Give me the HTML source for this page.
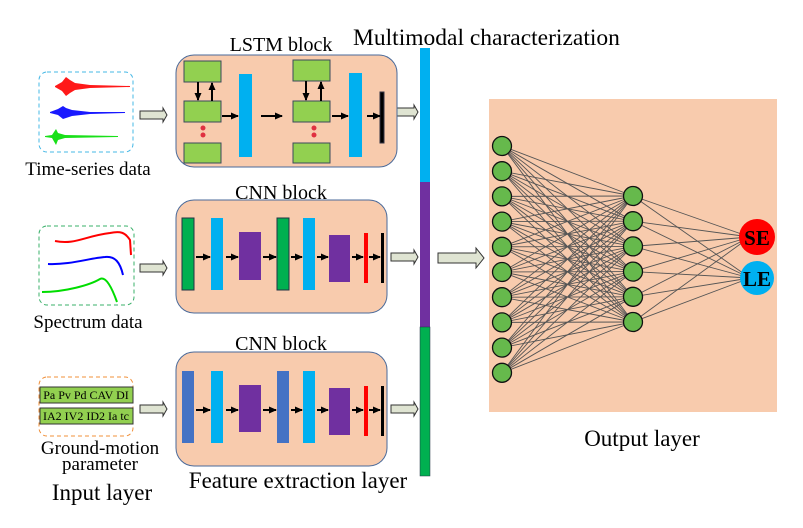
<!DOCTYPE html>
<html><head><meta charset="utf-8"><style>
html,body{margin:0;padding:0;background:#fff;}
svg{display:block;font-family:"Liberation Serif",serif;}
</style></head><body>
<svg id="s" width="803" height="528" viewBox="0 0 803 528" xmlns="http://www.w3.org/2000/svg">
<defs>
<marker id="ah" markerUnits="userSpaceOnUse" markerWidth="8" markerHeight="8" refX="7" refY="4" orient="auto"><path d="M0,0.5 L8,4 L0,7.5 Z" fill="#000"/></marker>
</defs>
<text x="353" y="45" font-size="23.5">Multimodal characterization</text>
<text x="281" y="51" font-size="20" text-anchor="middle">LSTM  block</text>
<text x="281" y="199" font-size="20" text-anchor="middle">CNN  block</text>
<text x="281" y="350" font-size="20" text-anchor="middle">CNN  block</text>

<rect x="39" y="72" width="94" height="80" rx="8" fill="none" stroke="#45b8e6" stroke-dasharray="4,3"/>
<path d="M55,86 L62,82 L66,77 L70,80 L75,83 L90,85 L130,86 L130,87 L90,88 L75,90 L70,93 L66,96 L62,91 L55,87 Z" fill="#f00" opacity="0.9"/>
<path d="M50,112 L58,109 L63,106 L66,108 L72,110 L90,112 L125,112 L125,113 L90,114 L72,116 L66,118 L63,119 L58,115 L50,113 Z" fill="#00f" opacity="0.9"/>
<path d="M45,136 L52,135 L56,129 L58,133 L65,135 L118,136 L118,137 L65,138 L58,140 L56,145 L52,138 L45,137 Z" fill="#0d0" opacity="0.9"/>
<text x="88" y="175" font-size="19" text-anchor="middle">Time-series data</text>

<rect x="39" y="226" width="95" height="79" rx="8" fill="none" stroke="#3ab06a" stroke-dasharray="4,3"/>
<path d="M55,241 C75,245 85,236 110,233 C120,231 125,232 130,240 L131,255" stroke="#f00" fill="none" stroke-width="2"/>
<path d="M48,264 C70,265 90,258 105,257 C115,256 120,262 123,275" stroke="#00f" fill="none" stroke-width="2"/>
<path d="M42,292 C65,292 90,285 100,279 C106,276 112,288 117,302" stroke="#0d0" fill="none" stroke-width="2"/>
<text x="88" y="328" font-size="19" text-anchor="middle">Spectrum data</text>

<rect x="39" y="377" width="94" height="59" rx="8" fill="none" stroke="#f0903a" stroke-dasharray="4,3"/>
<rect x="40" y="387" width="93" height="16" fill="#92d050" stroke="#333"/>
<rect x="40" y="408" width="93" height="16" fill="#92d050" stroke="#333"/>
<text x="86" y="399" font-size="12" text-anchor="middle">Pa Pv Pd CAV DI</text>
<text x="86" y="420" font-size="12" text-anchor="middle">IA2 IV2 ID2 Ia tc</text>
<text x="100" y="454" font-size="19" text-anchor="middle">Ground-motion</text>
<text x="100" y="470" font-size="19" text-anchor="middle">parameter</text>
<text x="102" y="500" font-size="23" text-anchor="middle">Input layer</text>
<text x="298" y="488" font-size="23" text-anchor="middle">Feature extraction layer</text>

<g fill="#dfe4d2" stroke="#333" stroke-width="1">
<path d="M140,111 L163,111 L163,108 L167,115 L163,122 L163,119 L140,119 Z"/>
<path d="M140,264 L163,264 L163,261 L167,268 L163,275 L163,272 L140,272 Z"/>
<path d="M140,405 L163,405 L163,402 L167,409 L163,416 L163,413 L140,413 Z"/>
<path d="M391,108 L414,108 L414,105 L418,112 L414,119 L414,116 L391,116 Z"/>
<path d="M391,253 L414,253 L414,250 L418,257 L414,264 L414,261 L391,261 Z"/>
<path d="M391,405 L414,405 L414,402 L418,409 L414,416 L414,413 L391,413 Z"/>
<path d="M438,253 L476,253 L476,248 L484,258 L476,268 L476,263 L438,263 Z"/>
</g>

<rect x="176" y="55" width="221" height="112" rx="18" fill="#f8cbad" stroke="#4a6a9a"/>
<rect x="176" y="200" width="211" height="113" rx="18" fill="#f8cbad" stroke="#4a6a9a"/>
<rect x="176" y="352" width="211" height="114" rx="18" fill="#f8cbad" stroke="#4a6a9a"/>

<g fill="#92d050" stroke="#3a4a5a">
<rect x="184" y="61" width="37" height="21"/><rect x="184" y="101" width="37" height="21"/><rect x="184" y="143" width="37" height="20"/>
<rect x="293" y="60" width="37" height="21"/><rect x="293" y="101" width="37" height="21"/><rect x="293" y="143" width="37" height="20"/>
</g>
<rect x="239" y="74" width="13" height="83" fill="#00b0f0"/>
<rect x="349" y="73" width="13" height="84" fill="#00b0f0"/>
<rect x="380" y="92" width="4" height="51" fill="#000" stroke="#334"/>
<g stroke="#000" stroke-width="2" marker-end="url(#ah)">
<line x1="198" y1="82" x2="198" y2="100"/><line x1="212" y1="101" x2="212" y2="83"/>
<line x1="306" y1="81" x2="306" y2="100"/><line x1="321" y1="101" x2="321" y2="82"/>
<line x1="222" y1="116" x2="238" y2="116"/><line x1="261" y1="116" x2="282" y2="116"/>
<line x1="332" y1="116" x2="348" y2="116"/><line x1="367" y1="116" x2="380" y2="116"/>
</g>
<g fill="#e03040"><circle cx="203" cy="128" r="2.5"/><circle cx="203" cy="135" r="2.5"/><circle cx="314" cy="128" r="2.5"/><circle cx="314" cy="135" r="2.5"/></g>

<g>
<rect x="182" y="218" width="12" height="72" fill="#00b050" stroke="#234"/>
<rect x="211" y="218" width="12" height="72" fill="#00b0f0"/>
<rect x="239" y="232" width="22" height="48" fill="#7030a0"/>
<rect x="277" y="218" width="12" height="72" fill="#00b050" stroke="#234"/>
<rect x="303" y="218" width="12" height="72" fill="#00b0f0"/>
<rect x="329" y="235" width="21" height="47" fill="#7030a0"/>
<rect x="364" y="233" width="4" height="50" fill="#f00"/>
<rect x="381" y="233" width="3" height="50" fill="#000"/>
<g stroke="#000" stroke-width="2" marker-end="url(#ah)">
<line x1="196" y1="257" x2="210" y2="257"/><line x1="226" y1="257" x2="238" y2="257"/>
<line x1="263" y1="257" x2="276" y2="257"/><line x1="291" y1="257" x2="302" y2="257"/>
<line x1="317" y1="257" x2="328" y2="257"/><line x1="352" y1="257" x2="363" y2="257"/>
<line x1="369" y1="257" x2="380" y2="257"/>
</g>
</g>
<g>
<rect x="182" y="371" width="12" height="72" fill="#4472c4"/>
<rect x="211" y="371" width="12" height="72" fill="#00b0f0"/>
<rect x="239" y="385" width="22" height="47" fill="#7030a0"/>
<rect x="277" y="371" width="12" height="72" fill="#4472c4"/>
<rect x="303" y="371" width="12" height="72" fill="#00b0f0"/>
<rect x="329" y="388" width="21" height="47" fill="#7030a0"/>
<rect x="364" y="386" width="4" height="50" fill="#f00"/>
<rect x="381" y="386" width="3" height="50" fill="#000"/>
<g stroke="#000" stroke-width="2" marker-end="url(#ah)">
<line x1="196" y1="410" x2="210" y2="410"/><line x1="226" y1="410" x2="238" y2="410"/>
<line x1="263" y1="410" x2="276" y2="410"/><line x1="291" y1="410" x2="302" y2="410"/>
<line x1="317" y1="410" x2="328" y2="410"/><line x1="352" y1="410" x2="363" y2="410"/>
<line x1="369" y1="410" x2="380" y2="410"/>
</g>
</g>

<rect x="420" y="48" width="10" height="134" fill="#00b0f0"/>
<rect x="420" y="182" width="10" height="145" fill="#7030a0"/>
<rect x="420" y="327" width="10" height="149" fill="#00b050" stroke="#234" stroke-width="0.5"/>

<rect x="489" y="99" width="288" height="313" fill="#f8cbad"/>
<g id="net" stroke="#555" stroke-width="0.9"></g>
<g id="nodes"></g>
<circle cx="757" cy="237" r="18" fill="#f00"/>
<circle cx="757" cy="278" r="17" fill="#00b0f0"/>
<text x="757" y="245" font-size="21" font-weight="bold" text-anchor="middle">SE</text>
<text x="757" y="286" font-size="21" font-weight="bold" text-anchor="middle">LE</text>
<text x="642" y="446" font-size="23" text-anchor="middle">Output layer</text>
</svg>
<script>
var ns="http://www.w3.org/2000/svg",net=document.getElementById('net'),nd=document.getElementById('nodes');
function L(a,b,c,d){var l=document.createElementNS(ns,'line');l.setAttribute('x1',a);l.setAttribute('y1',b);l.setAttribute('x2',c);l.setAttribute('y2',d);net.appendChild(l);}
function C(x,y){var c=document.createElementNS(ns,'circle');c.setAttribute('cx',x);c.setAttribute('cy',y);c.setAttribute('r',9.5);c.setAttribute('fill','#66b94c');c.setAttribute('stroke','#111');c.setAttribute('stroke-width','1.3');nd.appendChild(c);}
var I=[],H=[];for(var i=0;i<10;i++)I.push(146+i*25.2);for(var j=0;j<6;j++)H.push(196+j*25.2);
I.forEach(function(a){H.forEach(function(b){L(502,a,633,b);});});
H.forEach(function(b){L(633,b,750,237);L(633,b,750,278);});
I.forEach(function(a){C(502,a);});H.forEach(function(b){C(633,b);});
</script>
</body></html>
